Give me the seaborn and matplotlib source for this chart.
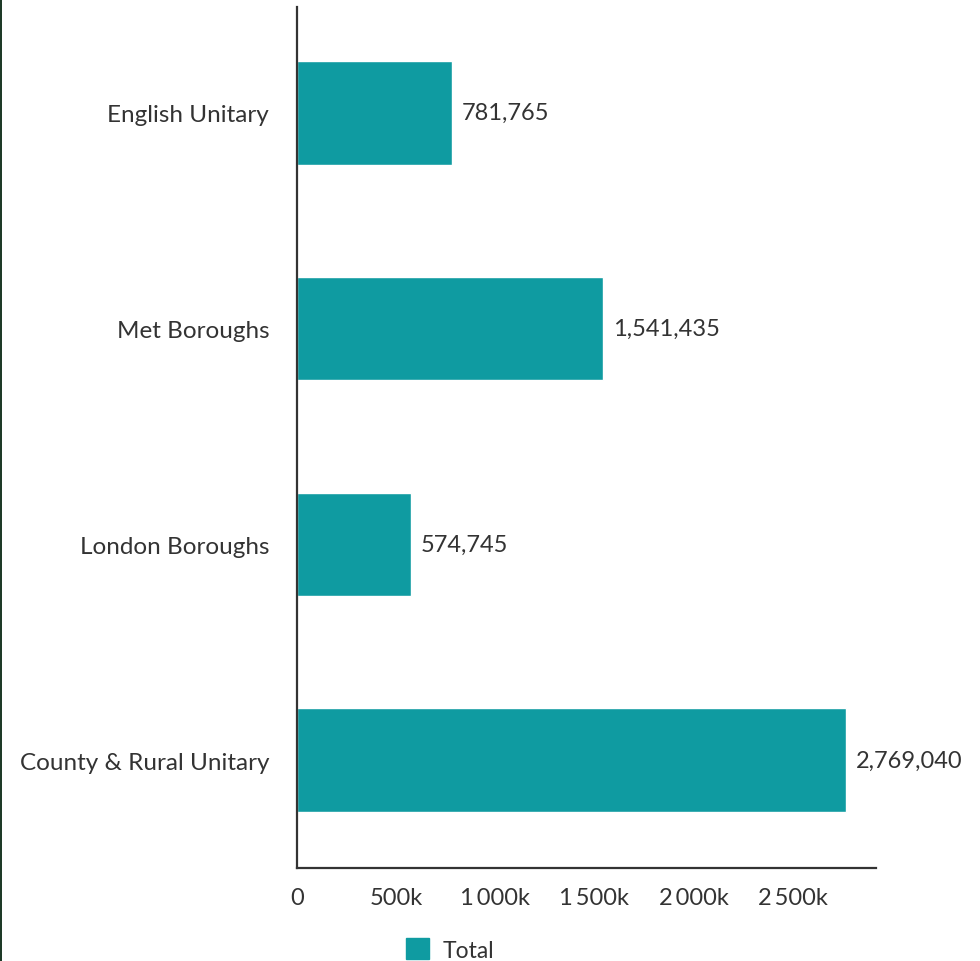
import matplotlib
matplotlib.use("Agg")
import matplotlib.pyplot as plt
import matplotlib.ticker as mticker
from matplotlib.patches import Rectangle, Patch
import seaborn as sns
import pandas as pd

# Chart data
categories = ["English Unitary", "Met Boroughs", "London Boroughs", "County & Rural Unitary"]
totals = [781765, 1541435, 574745, 2769040]
series_name = "Total"

bar_color = "#0f9ba1"
text_color = "#333333"

sns.set_style("white")
plt.rcParams['font.family'] = ['Lato', 'DejaVu Sans']

df = pd.DataFrame({"Category": categories, "Total": totals})

fig = plt.figure(figsize=(9.8, 9.62), dpi=100)
ax = fig.add_axes([0.303, 0.0967, 0.591, 0.895])

sns.barplot(data=df, x="Total", y="Category", color=bar_color, width=0.48,
            saturation=1, ax=ax)

ax.set_xlim(0, 2920000)
ax.set_ylim(3.5, -0.49)
ax.set_xlabel("")
ax.set_ylabel("")

# value labels next to each bar
for i, v in enumerate(totals):
    ax.text(v + 50000, i, f"{v:,}", va="center", ha="left",
            fontsize=17, color=text_color)

# x axis ticks like "1 000k"
def fmt_k(x, pos):
    k = int(round(x / 1000))
    if k == 0:
        return "0"
    s = f"{k:,}".replace(",", "\u2009")
    return s + "k"

ax.set_xticks([0, 500000, 1000000, 1500000, 2000000, 2500000])
ax.xaxis.set_major_formatter(mticker.FuncFormatter(fmt_k))
ax.tick_params(axis="x", length=0, pad=14, labelsize=17, labelcolor=text_color)
ax.tick_params(axis="y", length=0, pad=20, labelsize=17.5, labelcolor=text_color)

for side in ["top", "right"]:
    ax.spines[side].set_visible(False)
for side in ["left", "bottom"]:
    ax.spines[side].set_color("#333333")
    ax.spines[side].set_linewidth(1.6)

# legend below the plot
handles = [Patch(facecolor=bar_color, edgecolor=bar_color, label=series_name)]
fig.legend(handles=handles, loc="center left", bbox_to_anchor=(0.393, 0.012),
           frameon=False, fontsize=16.5, handlelength=1.0, handleheight=1.0,
           handletextpad=0.6, labelcolor=text_color)

# dark edge on the left of the image
fig.patches.append(Rectangle((0, 0), 0.0025, 1, transform=fig.transFigure,
                             facecolor="#1e3a28", edgecolor="none"))

fig.savefig("out.png", dpi=100)
